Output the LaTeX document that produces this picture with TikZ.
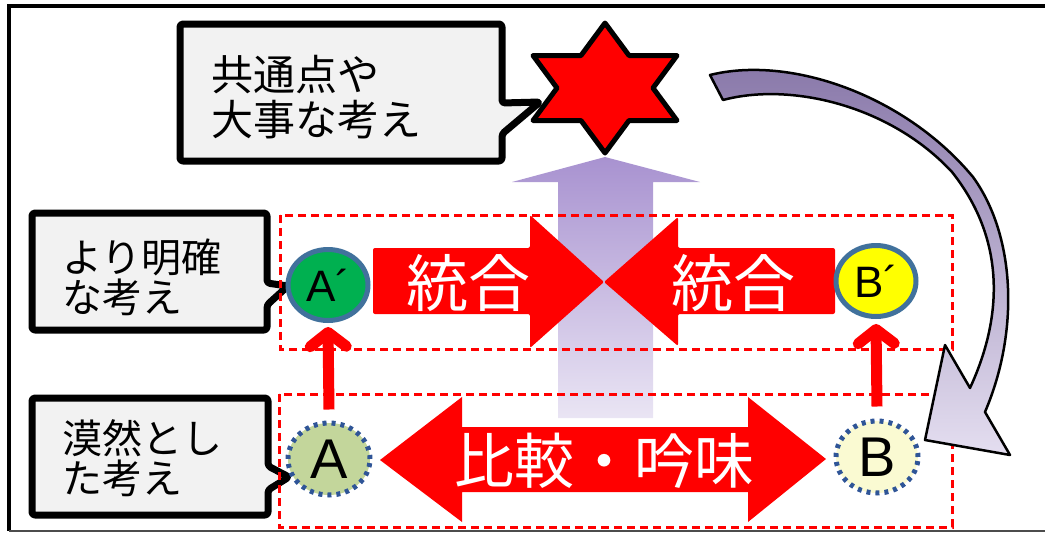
\documentclass[tikz,border=0pt]{standalone}
\usepackage{fontspec}
\setmainfont{Liberation Sans}
\newfontfamily\jp{Noto Sans CJK JP}
\usetikzlibrary{arrows.meta,shapes.geometric}
\definecolor{myred}{RGB}{255,0,0}
\definecolor{callfill}{RGB}{242,242,242}
\definecolor{ringblue}{RGB}{65,113,156}
\definecolor{dotblue}{RGB}{47,85,151}
\definecolor{agreen}{RGB}{0,176,80}
\definecolor{byellow}{RGB}{255,255,0}
\definecolor{aolive}{RGB}{195,214,155}
\definecolor{bpale}{RGB}{250,250,210}
\definecolor{lavtop}{RGB}{168,146,208}
\definecolor{lavbot}{RGB}{234,229,244}
\definecolor{curtop}{RGB}{135,118,168}
\definecolor{curbot}{RGB}{228,222,240}
\tikzset{
  callout/.style={fill=callfill,draw=black,line width=7pt,rounded corners=3pt,line join=round},
  calltext/.style={anchor=west,align=left,inner sep=0pt,font=\jp\fontsize{40}{40}\selectfont},
  zone/.style={draw=myred,line width=3pt,dash pattern=on 8pt off 5pt},
  bigarrow/.style={fill=myred,draw=none},
  bigtext/.style={text=white,inner sep=0pt,font=\jp\fontsize{62}{62}\selectfont},
  solidring/.style={ellipse,minimum width=80pt,minimum height=71pt,inner sep=0pt,draw=ringblue,line width=5pt,font=\fontsize{44}{44}\selectfont},
  dotring/.style={ellipse,minimum width=82pt,minimum height=72pt,inner sep=0pt,draw=dotblue,line width=5pt,dash pattern=on 4pt off 5pt,font=\fontsize{56}{56}\selectfont},
  uparrow/.style={draw=myred,line width=11pt,-{Straight Barb[length=14pt,width=36pt,round]}}
}
\begin{document}
\begin{tikzpicture}[x=1pt,y=-1pt]
\useasboundingbox (0,0) rectangle (1045,536);
% outer frame
\draw[line width=3.5pt] (1045,6) -- (9,6) -- (9,531);
\draw[line width=2pt,black!70] (9,531) -- (1045,531);

% callouts
\draw[callout] (180,24) -- (502,24) -- (502,103) -- (540,102) -- (502,134) -- (502,161) -- (180,161) -- cycle;
\node[calltext,font=\jp\fontsize{42}{45}\selectfont] (c1) at (211,97) {共通点や\\大事な考え};
\draw[callout] (32,213) -- (267,213) -- (267,283) -- (288,286) -- (267,305) -- (267,330) -- (32,330) -- cycle;
\node[calltext] (c2) at (62,277) {より明確\\な考え};
\draw[callout] (32,398) -- (268,398) -- (268,466) -- (289,477) -- (268,490) -- (268,515) -- (32,515) -- cycle;
\node[calltext] (c3) at (62,458) {漠然とし\\た考え};

% lavender upward arrow
\shade[top color=lavtop,bottom color=lavbot] (558,418) -- (558,182) -- (512,182) -- (605,157) -- (700,182) -- (653,182) -- (653,418) -- cycle;

% dashed zones
\draw[zone] (280,215) rectangle (952,349);
\draw[zone] (279,394) rectangle (952,527);

% curved arrow
\draw[top color=curtop,bottom color=curbot,draw=black,line width=2.5pt,line join=round]
  (710,75) .. controls (790,55) and (905,95) .. (973,177)
  .. controls (1015,235) and (1020,330) .. (985,412)
  -- (1010,455) -- (925,440) -- (945,345) -- (970,388)
  .. controls (1006,310) and (1002,235) .. (952,172)
  .. controls (890,105) and (790,82) .. (723,100) -- cycle;

% integration arrows
\draw[bigarrow,rounded corners=2pt] (373,248) -- (530,248) -- (530,215) -- (604,282) -- (530,348) -- (530,314) -- (373,314) -- cycle;
\draw[bigarrow,rounded corners=2pt] (835,248) -- (678,248) -- (678,217) -- (604,282) -- (678,346) -- (678,314) -- (835,314) -- cycle;
\node[bigtext] (t1) at (468,283) {統合};
\node[bigtext] (t2) at (733,283) {統合};

% comparison double arrow
\draw[bigarrow] (380,460) -- (462,397) -- (462,427) -- (748,427) -- (748,397) -- (826,459) -- (748,522) -- (748,492) -- (462,492) -- (462,522) -- cycle;
\node[bigtext,font=\jp\fontsize{60}{60}\selectfont] (t3) at (604,461) {比較・吟味};

% circles
\node[solidring,fill=agreen] (Ap) at (328,285) {A´};
\node[solidring,fill=byellow] (Bp) at (876,281) {B´};
\node[dotring,fill=aolive] (A) at (329,459) {A};
\node[dotring,fill=bpale] (B) at (877,457) {B};

% small red arrows
\draw[uparrow] ([yshift=11pt]A.north) -- ([yshift=-4pt]Ap.south);
\draw[uparrow] ([yshift=12pt]B.north) -- ([yshift=-5pt]Bp.south);

% star
\draw[fill=myred,draw=black,line width=5pt,line join=round]
  (605,23) -- (629,55.5) -- (677,55.5) -- (653,88) -- (677,120.5) -- (629,120.5)
  -- (605,153) -- (581,120.5) -- (533,120.5) -- (557,88) -- (533,55.5) -- (581,55.5) -- cycle;
\end{tikzpicture}
\end{document}
